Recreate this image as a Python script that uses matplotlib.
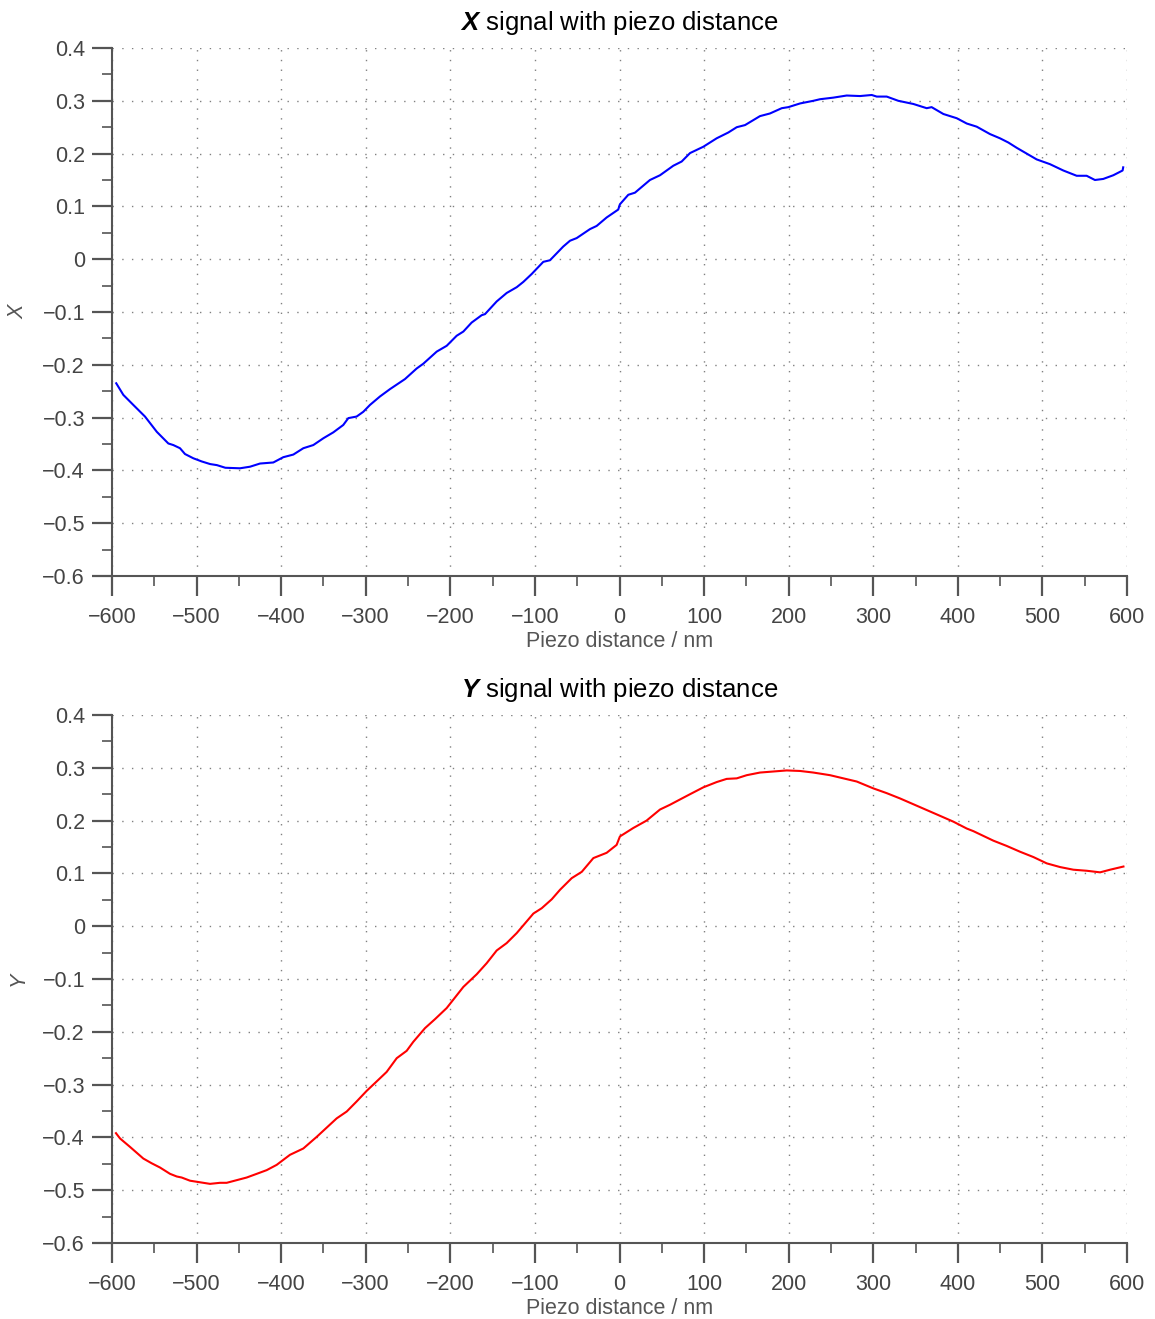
import matplotlib
matplotlib.use("Agg")
import matplotlib.pyplot as plt
from matplotlib.ticker import MultipleLocator, FuncFormatter

plt.rcParams['font.family'] = ['Liberation Sans', 'DejaVu Sans']
plt.rcParams['mathtext.fontset'] = 'custom'
plt.rcParams['mathtext.bf'] = 'Liberation Sans:bold:italic'
plt.rcParams['mathtext.rm'] = 'Liberation Sans'

# ---------------- data ----------------
x_dist = [-595, -586.6, -574.8, -561, -547, -533.4, -527.5, -519.6, -513.7, -503.9,
          -494, -484, -476, -466, -448.7, -436.8, -425, -409.3, -397.5, -385.6,
          -373.8, -362, -350, -338.4, -326.6, -320.6, -310.8, -302.9, -295, -283.2,
          -271.3, -253.6, -239.8, -232, -216.1, -204.3, -192.5, -184.6, -174.8, -162.9,
          -159, -145.2, -133.4, -121.5, -113.7, -103.8, -90.1, -82.2, -66.5, -58.5,
          -50.6, -34.9, -27, -15.2, -1.5, 0.5, 10.4, 18.3, 36, 47.9,
          63.6, 73.5, 83.4, 99.1, 114.9, 128.7, 138.6, 148.4, 166.1, 177.9,
          191.8, 199.6, 213.5, 229.2, 237.1, 252.8, 268.6, 284.4, 298.2, 304.1,
          315.9, 329.6, 347.4, 363.2, 369, 382.9, 398.7, 410.5, 422.3, 438,
          449.8, 459.7, 469.6, 481.4, 493.2, 508.9, 524.7, 540.5, 552.3, 562.1,
          571.9, 583.8, 594.8, 595.5]
x_signal = [-0.235, -0.257, -0.276, -0.298, -0.327, -0.349, -0.352, -0.358, -0.369, -0.377,
            -0.383, -0.388, -0.390, -0.395, -0.396, -0.393, -0.387, -0.385, -0.375, -0.370,
            -0.358, -0.352, -0.339, -0.328, -0.314, -0.301, -0.298, -0.289, -0.276, -0.260,
            -0.246, -0.227, -0.207, -0.198, -0.175, -0.164, -0.145, -0.137, -0.120, -0.106,
            -0.104, -0.080, -0.064, -0.053, -0.043, -0.028, -0.005, -0.002, 0.024, 0.035,
            0.040, 0.057, 0.063, 0.079, 0.094, 0.104, 0.122, 0.126, 0.150, 0.159,
            0.177, 0.185, 0.201, 0.213, 0.229, 0.240, 0.250, 0.254, 0.271, 0.276,
            0.286, 0.288, 0.295, 0.300, 0.303, 0.306, 0.310, 0.309, 0.311, 0.308,
            0.308, 0.300, 0.294, 0.286, 0.288, 0.275, 0.267, 0.257, 0.251, 0.237,
            0.229, 0.221, 0.211, 0.200, 0.189, 0.180, 0.168, 0.158, 0.158, 0.150,
            0.152, 0.159, 0.168, 0.174]

y_dist = [-595.3, -590.5, -578.7, -563, -553.1, -543.3, -531.4, -523.5, -517.6, -507.8,
          -496, -484.1, -472.3, -464.4, -452.6, -440.8, -428.9, -417.1, -405.3, -389.6,
          -373.8, -358, -334.4, -322.5, -310.8, -299, -287.1, -275.3, -263.4, -251.6,
          -243.8, -229.9, -218.1, -204.3, -184.6, -168.8, -157, -145.2, -133.4, -121.5,
          -101.8, -92, -80.1, -70.3, -56.5, -44.6, -30.9, -15.2, -3.4, 0.5,
          16.3, 32, 47.9, 59.7, 71.5, 83.4, 99.1, 114.9, 126.7, 138.6,
          150.4, 166.1, 181.9, 197.7, 213.5, 229.2, 248.9, 264.7, 280.5, 300.1,
          315.9, 331.6, 347.4, 363.2, 379, 394.7, 410.5, 418.4, 430.2, 442,
          457.8, 473.6, 489.3, 505.1, 520.9, 536.6, 552.4, 568.2, 580, 595.8]
y_signal = [-0.392, -0.402, -0.418, -0.440, -0.449, -0.457, -0.469, -0.474, -0.476, -0.482,
            -0.485, -0.488, -0.486, -0.486, -0.481, -0.476, -0.469, -0.462, -0.452, -0.433,
            -0.421, -0.399, -0.364, -0.351, -0.332, -0.312, -0.294, -0.276, -0.250, -0.236,
            -0.219, -0.193, -0.176, -0.155, -0.115, -0.091, -0.070, -0.046, -0.032, -0.013,
            0.024, 0.034, 0.051, 0.069, 0.091, 0.103, 0.129, 0.139, 0.154, 0.170,
            0.186, 0.200, 0.221, 0.230, 0.240, 0.250, 0.263, 0.273, 0.279, 0.280,
            0.286, 0.291, 0.293, 0.295, 0.294, 0.291, 0.286, 0.280, 0.274, 0.261,
            0.252, 0.242, 0.231, 0.220, 0.209, 0.198, 0.185, 0.180, 0.171, 0.162,
            0.152, 0.141, 0.131, 0.119, 0.112, 0.107, 0.105, 0.102, 0.107, 0.113]

titles = [r"$\mathbf{X}$ signal with piezo distance", r"$\mathbf{Y}$ signal with piezo distance"]
ylabels = ["X", "Y"]
xlabel = "Piezo distance / nm"

# ---------------- figure ----------------
W, H = 1155, 1319
fig = plt.figure(figsize=(W / 100, H / 100), dpi=100)

axc = '#555555'
left = 112 / W
width = (1127 - 112) / W
height = 528 / H
axes = [fig.add_axes([left, 1 - 576 / H, width, height]),
        fig.add_axes([left, 1 - 1243 / H, width, height])]

def fmt(v, pos):
    s = '%g' % round(v, 3)
    return s.replace('-', '\u2212')

series = [(x_dist, x_signal, '#0000ff'), (y_dist, y_signal, '#ff0000')]
for ax, (d, s, c), t, yl in zip(axes, series, titles, ylabels):
    ax.plot(d, s, color=c, lw=1.5, zorder=3)
    ax.set_xlim(-600, 600)
    ax.set_ylim(-0.6, 0.4)
    ax.xaxis.set_major_locator(MultipleLocator(100))
    ax.xaxis.set_minor_locator(MultipleLocator(50))
    ax.yaxis.set_major_locator(MultipleLocator(0.1))
    ax.yaxis.set_minor_locator(MultipleLocator(0.05))
    ax.xaxis.set_major_formatter(FuncFormatter(fmt))
    ax.yaxis.set_major_formatter(FuncFormatter(fmt))
    for sp in ['top', 'right']:
        ax.spines[sp].set_visible(False)
    for sp in ['left', 'bottom']:
        ax.spines[sp].set_color(axc)
        ax.spines[sp].set_linewidth(1.5)
    ax.tick_params(which='major', direction='out', length=14.4, width=1.6, color=axc,
                   labelsize=15.5, labelcolor='#444444')
    ax.tick_params(axis='x', which='major', pad=8)
    ax.tick_params(axis='y', which='major', pad=5)
    ax.tick_params(which='minor', direction='out', length=7.2, width=1.2, color=axc)
    ax.grid(True, which='major', color='#808080', linestyle=(0, (1, 6)), linewidth=1.0)
    ax.set_axisbelow(True)
    ax.set_title(t, fontsize=18.5, color='black', pad=13)
    ax.set_xlabel(xlabel, fontsize=15.5, color='#555555', labelpad=2)
    ax.set_ylabel(yl, fontsize=15.5, color='#555555', style='italic', labelpad=10)

fig.savefig('out.png', dpi=100)
